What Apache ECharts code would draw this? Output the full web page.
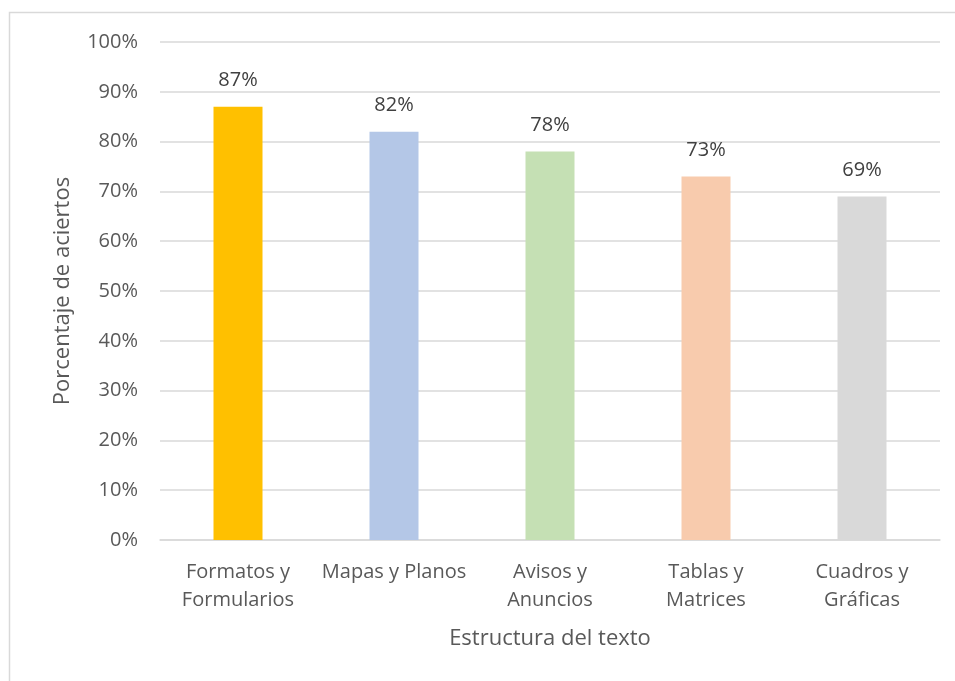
<!DOCTYPE html>
<html><head><meta charset="utf-8">
<script src="https://cdn.jsdelivr.net/npm/echarts@6/dist/echarts.min.js"></script>
<style>html,body{margin:0;padding:0;background:#fff}#c{width:955px;height:681px}</style>
</head><body><div id="c"></div>
<script>
const categories = ["Formatos y\nFormularios", "Mapas y Planos", "Avisos y\nAnuncios", "Tablas y\nMatrices", "Cuadros y\nGráficas"];
const values = [87, 82, 78, 73, 69];
const colors = ["#FFC000", "#B4C7E7", "#C5E0B4", "#F8CBAD", "#D9D9D9"];
const yTicks = [0,10,20,30,40,50,60,70,80,90,100];
const font = "'Open Sans', Carlito, Calibri, sans-serif";
const chart = echarts.init(document.getElementById('c'));
chart.setOption({
  animation:false,
  graphic:[{type:'rect',shape:{x:9.5,y:12.5,width:980,height:700},style:{fill:'none',stroke:'#d9d9d9',lineWidth:1.5}}],
  grid:{left:160,right:15,top:42,bottom:141,containLabel:false},
  xAxis:{type:'category',data:categories,
    axisLine:{lineStyle:{color:'#d9d9d9',width:1.5}},axisTick:{show:false},
    axisLabel:{color:'#595959',fontSize:20,fontFamily:font,lineHeight:28,margin:18,interval:0},
    name:'Estructura del texto',nameLocation:'middle',nameGap:88,
    nameTextStyle:{color:'#595959',fontSize:22,fontFamily:font}},
  yAxis:{type:'value',min:0,max:100,interval:10,
    axisLine:{show:false},axisTick:{show:false},
    splitLine:{lineStyle:{color:'#d9d9d9',width:1.5}},
    axisLabel:{color:'#595959',fontSize:20,fontFamily:font,margin:22,formatter:v=>v+'%'},
    name:'Porcentaje de aciertos',nameLocation:'middle',nameGap:86,
    nameTextStyle:{color:'#595959',fontSize:22,fontFamily:font}},
  series:[{type:'bar',barWidth:49,
    data:values.map((v,i)=>({value:v,itemStyle:{color:colors[i]}})),
    label:{show:true,position:'top',distance:16,color:'#404040',fontSize:20,fontFamily:font,formatter:p=>p.value+'%'}}]
});
</script></body></html>
